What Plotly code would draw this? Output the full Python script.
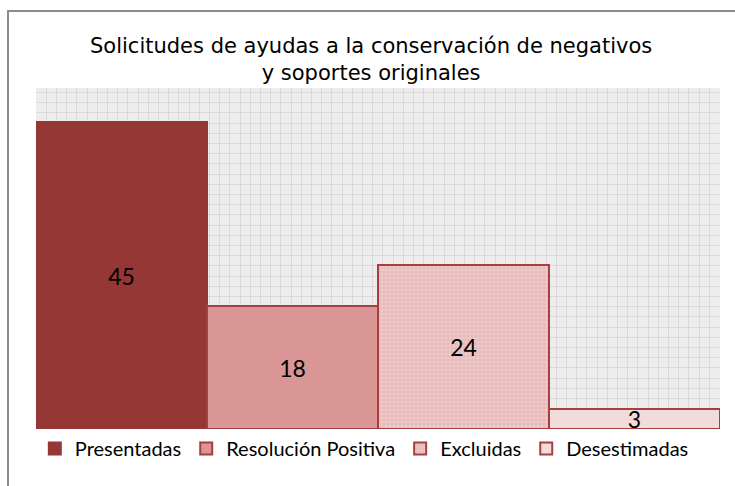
import plotly.graph_objects as go

categories = ["Presentadas", "Resolución Positiva", "Excluidas", "Desestimadas"]
values = [45, 18, 24, 3]
colors = ["#953735", "#d99694", "#e6b9b8", "#f2dcdb"]
line_colors = ["#953735", "#a5403f", "#a5403f", "#a5403f"]

W, H = 735, 486
ml, mr, mt, mb = 36, 15, 88, 57
pw, ph = W - ml - mr, H - mt - mb

fig = go.Figure()
for i, (c, v) in enumerate(zip(categories, values)):
    pattern = None
    if c == "Excluidas":
        pattern = dict(shape="+", size=4, solidity=0.3, fgcolor="#f3d6d6", bgcolor="#e6b9b8", fillmode="replace")
    fig.add_trace(go.Bar(
        x=[c], y=[v], name=c, width=[1],
        marker=dict(color=colors[i], line=dict(color=line_colors[i], width=2),
                    pattern=pattern),
        text=[str(v)], textposition="inside", insidetextanchor="middle",
        constraintext="none", textangle=0,
        textfont=dict(family="Lato", size=23, color="#000000"),
        hoverinfo="skip",
    ))

fig.update_layout(
    width=W, height=H,
    margin=dict(l=ml, r=mr, t=mt, b=mb),
    paper_bgcolor="white", plot_bgcolor="#ededed",
    barmode="overlay", bargap=0,
    xaxis=dict(type="category", showgrid=False, showticklabels=False, ticks="",
               showline=False, zeroline=False, range=[-0.5, 3.5]),
    xaxis2=dict(overlaying="x", range=[0, pw / 10.2], dtick=1, showgrid=True,
                gridcolor="#dadada", gridwidth=1, showticklabels=False, ticks="",
                zeroline=False, showline=False),
    yaxis=dict(range=[0, 50], dtick=50 / (ph / 10.2), showgrid=True, gridcolor="#dadada",
               gridwidth=1, showticklabels=False, ticks="", zeroline=False, showline=False),
    showlegend=True,
    legend=dict(orientation="h", x=0.48, xanchor="center", y=0.0, yanchor="top",
                font=dict(family="Lato", size=20, color="#000000"),
                traceorder="normal", itemwidth=30),
    font=dict(family="DejaVu Sans"),
)
fig.add_trace(go.Scatter(x=[0], y=[0], xaxis="x2", mode="markers",
                         marker=dict(opacity=0), showlegend=False, hoverinfo="skip"))

fig.add_annotation(
    text="Solicitudes de ayudas a la conservación de negativos<br>y soportes originales",
    xref="paper", yref="paper", x=(371 - ml) / pw, y=(H - mb - 59) / ph,
    xanchor="center", yanchor="middle", showarrow=False,
    font=dict(family="DejaVu Sans", size=21, color="#000000"),
)

fig.add_shape(type="rect", xref="paper", yref="paper",
              x0=(8 - ml) / pw, x1=1.2, y0=-0.5, y1=(H - mb - 11) / ph,
              line=dict(color="#8c8c8c", width=2), fillcolor="rgba(0,0,0,0)", layer="above")

fig.write_html("out.html", config={"displayModeBar": False},
               post_script="document.body.style.margin='0';")
